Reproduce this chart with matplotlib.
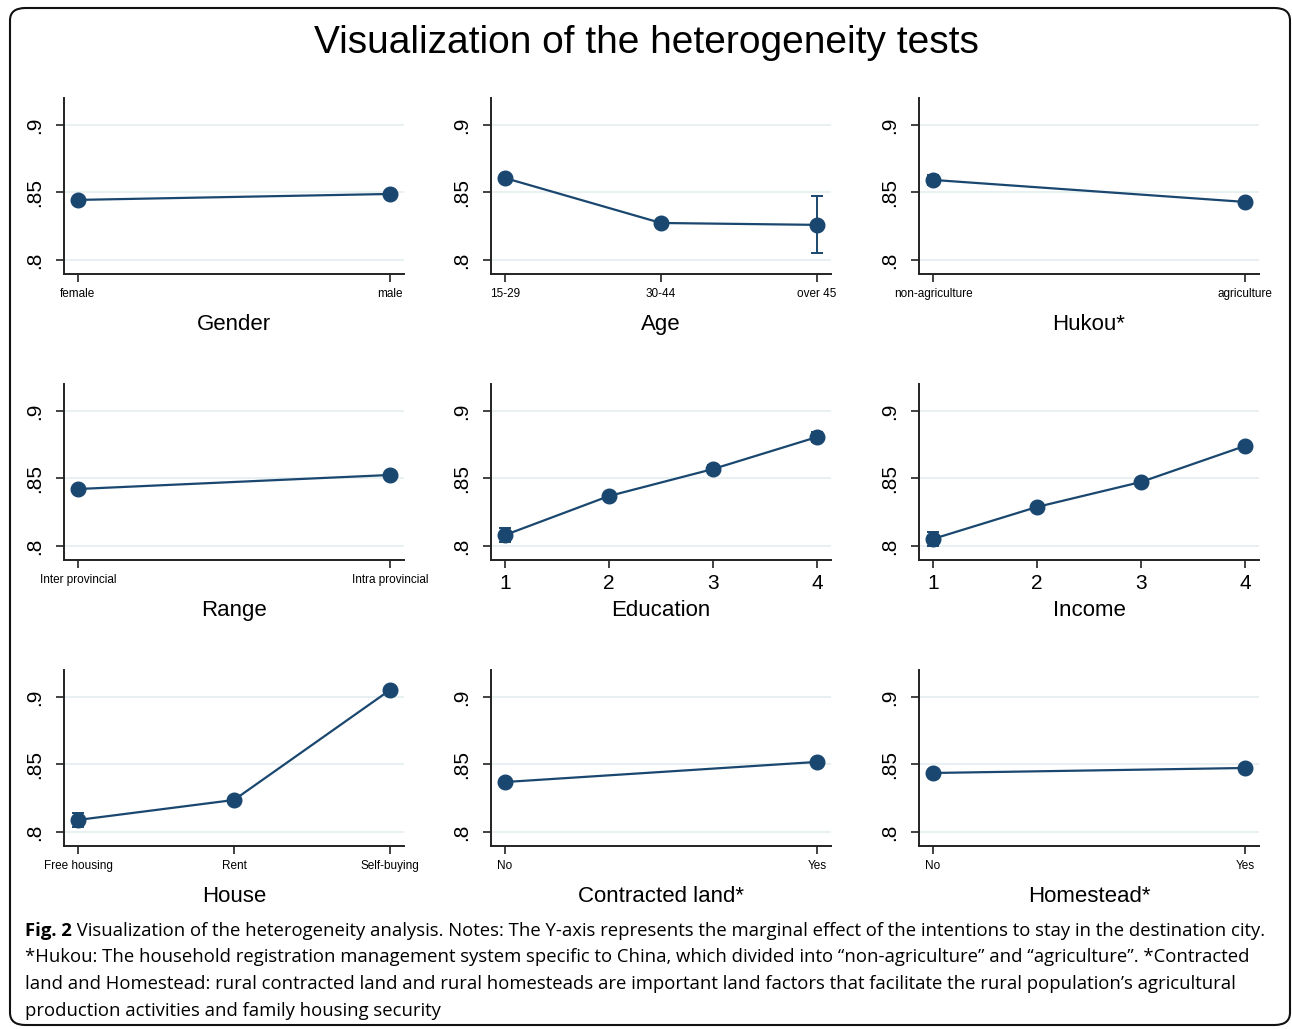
import matplotlib
matplotlib.use("Agg")
import matplotlib.pyplot as plt
from matplotlib.patches import FancyBboxPatch

# ---------------- data ----------------
gender_labels = ["female", "male"]
gender_vals = [0.8445, 0.8489]
gender_err = [0.0012, 0.0010]

age_labels = ["15-29", "30-44", "over 45"]
age_vals = [0.8607, 0.8274, 0.8260]
age_err = [0.0012, 0.0010, 0.0212]

hukou_labels = ["non-agriculture", "agriculture"]
hukou_vals = [0.8593, 0.8430]
hukou_err = [0.0035, 0.0010]

range_labels = ["Inter provincial", "Intra provincial"]
range_vals = [0.8422, 0.8526]
range_err = [0.0010, 0.0022]

edu_labels = ["1", "2", "3", "4"]
edu_vals = [0.8081, 0.8370, 0.8570, 0.8807]
edu_err = [0.0050, 0.0012, 0.0030, 0.0035]

income_labels = ["1", "2", "3", "4"]
income_vals = [0.8052, 0.8289, 0.8474, 0.8741]
income_err = [0.0050, 0.0025, 0.0025, 0.0012]

house_labels = ["Free housing", "Rent", "Self-buying"]
house_vals = [0.8089, 0.8237, 0.9052]
house_err = [0.0055, 0.0012, 0.0015]

land_labels = ["No", "Yes"]
land_vals = [0.8370, 0.8519]
land_err = [0.0012, 0.0010]

home_labels = ["No", "Yes"]
home_vals = [0.8437, 0.8474]
home_err = [0.0025, 0.0010]

panel_titles = ["Gender", "Age", "Hukou*", "Range", "Education", "Income",
                "House", "Contracted land*", "Homestead*"]
y_ticks = [0.8, 0.85, 0.9]
y_ticklabels = [".8", ".85", ".9"]

title = "Visualization of the heterogeneity tests"
caption_bold = "Fig. 2"
caption_lines = [
    " Visualization of the heterogeneity analysis. Notes: The Y-axis represents the marginal effect of the intentions to stay in the destination city.",
    "*Hukou: The household registration management system specific to China, which divided into \u201cnon-agriculture\u201d and \u201cagriculture\u201d. *Contracted",
    "land and Homestead: rural contracted land and rural homesteads are important land factors that facilitate the rural population\u2019s agricultural",
    "production activities and family housing security",
]

# ---------------- layout ----------------
W, H = 1292, 1029
fig = plt.figure(figsize=(W / 100, H / 100), dpi=100)
fig.patch.set_facecolor("white")

FONT = "Liberation Sans"
NAVY = "#1a476f"
GRID = "#e4edef"

panels = [
    (gender_labels, gender_vals, gender_err, False),
    (age_labels, age_vals, age_err, False),
    (hukou_labels, hukou_vals, hukou_err, False),
    (range_labels, range_vals, range_err, False),
    (edu_labels, edu_vals, edu_err, True),
    (income_labels, income_vals, income_err, True),
    (house_labels, house_vals, house_err, False),
    (land_labels, land_vals, land_err, False),
    (home_labels, home_vals, home_err, False),
]

col_left = [64, 491, 919]
row_top = [98, 384, 670]
ax_w, ax_h = 340, 176

for i, (labels, vals, errs, numeric) in enumerate(panels):
    r, c = divmod(i, 3)
    left = col_left[c] / W
    bottom = 1 - (row_top[r] + ax_h) / H
    ax = fig.add_axes([left, bottom, ax_w / W, ax_h / H])
    n = len(labels)
    x = list(range(n))
    for yt in y_ticks:
        ax.axhline(yt, color=GRID, lw=1.2, zorder=0)
    ax.errorbar(x, vals, yerr=errs, color=NAVY, lw=1.6, marker="o", ms=10.5,
                mfc=NAVY, mec=NAVY, capsize=4.5, capthick=1.4, elinewidth=1.4,
                zorder=3)
    m = 14 * (n - 1) / 312
    ax.set_xlim(-m, n - 1 + m)
    ax.set_ylim(0.7896, 0.92)
    ax.set_yticks(y_ticks)
    ax.set_yticklabels(y_ticklabels, rotation=90, va="center",
                       fontsize=15, family=FONT)
    ax.set_xticks(x)
    if numeric:
        ax.set_xticklabels(labels, fontsize=15, family=FONT)
        lp = 5
    else:
        ax.set_xticklabels(labels, fontsize=8.5, family=FONT)
        lp = 10
    ax.set_xlabel(panel_titles[i], fontsize=16, family=FONT, labelpad=lp)
    for s in ["top", "right"]:
        ax.spines[s].set_visible(False)
    for s in ["left", "bottom"]:
        ax.spines[s].set_linewidth(1.4)
        ax.spines[s].set_color("#222222")
    ax.tick_params(axis="both", direction="out", length=6, width=1.2,
                   color="#222222", pad=4)
    ax.tick_params(axis="y", pad=8)

fig.text(0.5, 1 - 43 / H, title, ha="center", va="center", fontsize=28,
         family=FONT)

# caption
renderer = fig.canvas.get_renderer()
cap_y = [931, 957, 984, 1011]
CFONT = "Open Sans"
CSIZE = 13.3
tb = fig.text(25 / W, 1 - cap_y[0] / H, caption_bold, ha="left", va="center",
              fontsize=CSIZE, family=CFONT, weight="bold")
bb = tb.get_window_extent(renderer=renderer)
fig.text(bb.x1 / W, 1 - cap_y[0] / H, caption_lines[0], ha="left",
         va="center", fontsize=CSIZE, family=CFONT)
for k in range(1, 4):
    fig.text(25 / W, 1 - cap_y[k] / H, caption_lines[k], ha="left",
             va="center", fontsize=CSIZE, family=CFONT)

# rounded border
border = FancyBboxPatch((10 / W, 4 / H), 1280 / W, 1017 / H,
                        boxstyle="round,pad=0,rounding_size=0.012",
                        transform=fig.transFigure, fill=False,
                        edgecolor="#111111", lw=1.5)
fig.patches.append(border)

fig.savefig("out.png", dpi=100)
